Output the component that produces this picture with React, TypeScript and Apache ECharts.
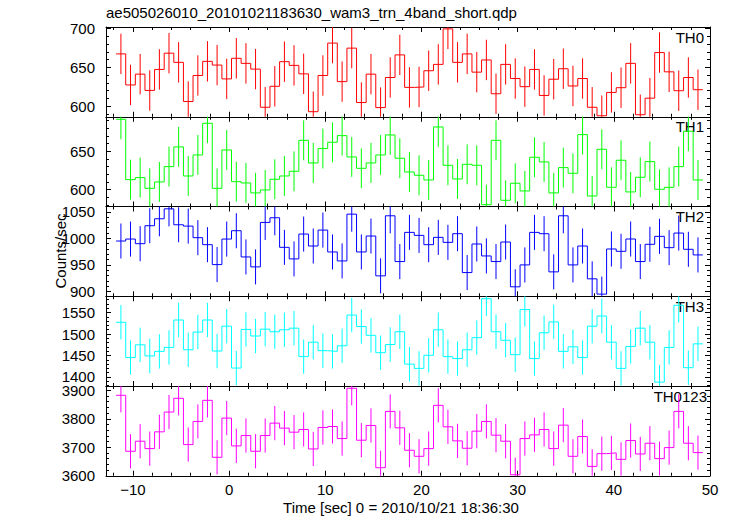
import React, { useEffect, useRef } from "react";
import * as echarts from "echarts";

const TITLE = "ae505026010_20101021183630_wam3_trn_4band_short.qdp";
const X_TITLE = "Time [sec] 0 = 2010/10/21 18:36:30";
const Y_TITLE = "Counts/sec";
const BAND_NAMES = ["TH0", "TH1", "TH2", "TH3", "TH0123"];
const BAND_COLORS = ["#ff0000", "#00ff00", "#0000ff", "#00ffff", "#ff00ff"];

const TIME_START = -11.75;
const BIN_SIZE = 1;

const th0 = [
  667.4, 627.4, 641.3, 620.4, 647.4, 668.3, 656.5, 606.1, 639.6, 657.8, 653.0, 635.2, 661.7, 655.2, 647.8, 598.7,
  625.7, 657.4, 652.6, 641.7, 593.0, 639.6, 681.3, 631.7, 674.8, 604.8, 641.3, 598.3, 637.0, 666.1, 624.3,
  624.8, 645.7, 653.9, 699.6, 656.5, 667.4, 643.9, 659.6, 616.1, 653.9, 635.7, 625.2, 647.4, 613.9, 634.8,
  648.3, 626.1, 635.7, 598.7, 587.8, 617.8, 623.9, 655.2, 589.1, 610.4, 669.1, 644.3, 620.0, 637.0, 621.3,
];
const th1 = [
  691.7, 613.0, 615.7, 601.7, 610.0, 630.0, 655.7, 617.8, 645.2, 686.5, 601.7, 651.7, 610.4, 608.7, 595.7, 599.6,
  613.5, 617.8, 623.9, 664.3, 634.8, 653.5, 661.7, 670.4, 642.6, 627.8, 634.8, 645.2, 671.3, 640.9, 623.0,
  618.7, 612.6, 681.7, 631.7, 613.9, 633.0, 631.7, 580.4, 664.3, 586.1, 608.3, 598.3, 642.2, 636.1, 595.7,
  628.7, 621.3, 671.7, 591.7, 652.6, 603.0, 638.3, 597.0, 616.1, 636.5, 600.4, 603.0, 630.0, 676.1, 612.6,
];
const th2 = [
  995.0, 998.7, 990.0, 1023.8, 1036.9, 1055.6, 1025.6, 1023.1, 1001.3, 988.1, 950.6, 998.7, 1014.4, 965.0, 946.3,
  1030.0, 1038.8, 983.1, 961.3, 1008.1, 985.6, 1015.6, 974.4, 957.5, 1045.6, 974.4, 1004.4, 929.4, 1042.5, 956.3,
  1011.3, 1005.6, 988.1, 1001.9, 992.5, 1008.8, 935.6, 989.4, 966.9, 956.3, 993.1, 908.8, 950.0, 1011.3, 1008.8,
  936.9, 1042.5, 950.0, 985.6, 923.8, 895.0, 980.0, 975.6, 998.8, 956.3, 988.8, 1003.8, 982.5, 1010.0, 979.4, 968.8,
];
const th3 = [
  1527.4, 1445.2, 1474.9, 1449.0, 1459.6, 1468.8, 1532.7, 1463.4, 1504.6, 1532.7, 1460.4, 1518.3, 1420.8, 1510.7,
  1495.4, 1511.4, 1505.3, 1509.9, 1513.7, 1447.4, 1481.0, 1461.2, 1459.6, 1472.6, 1544.2, 1517.5, 1497.0, 1456.6,
  1475.6, 1505.3, 1429.9, 1420.0, 1450.5, 1509.9, 1447.4, 1442.9, 1463.4, 1491.6, 1582.3, 1505.3, 1485.5, 1452.0,
  1557.1, 1442.9, 1503.0, 1528.2, 1459.6, 1470.3, 1445.2, 1518.3, 1541.9, 1481.0, 1420.0, 1471.1, 1513.7, 1481.0,
  1388.0, 1468.8, 1567.0, 1421.6, 1477.2,
];
const th0123 = [
  3882.4, 3685.9, 3721.2, 3695.3, 3754.1, 3823.5, 3871.8, 3709.4, 3790.6, 3864.7, 3664.7, 3802.4, 3704.7, 3741.2,
  3685.9, 3741.2, 3784.7, 3767.1, 3752.9, 3762.4, 3694.1, 3769.4, 3772.9, 3730.6, 3907.1, 3724.7, 3776.5, 3628.2,
  3825.9, 3768.2, 3689.4, 3668.2, 3695.3, 3847.1, 3771.8, 3722.4, 3696.5, 3756.5, 3790.6, 3742.4, 3721.2, 3603.5,
  3730.6, 3743.5, 3762.4, 3695.3, 3777.6, 3668.2, 3737.6, 3632.9, 3677.6, 3680.0, 3657.6, 3723.5, 3676.5, 3714.1,
  3660.0, 3698.8, 3825.9, 3714.1, 3681.2,
];
const SERIES_VALUES = [th0, th1, th2, th3, th0123];
const ERRORS = [26, 26, 33, 40, 60];

const X_MIN = -12.8;
const X_MAX = 50;
const Y_MIN = [586.5, 578, 891, 1379, 3600];
const Y_MAX = [702, 695, 1060, 1588, 3915];
const Y_SPLIT = [2, 2, 3, 4, 3];

const FONT = "'Liberation Sans', Arial, Helvetica, sans-serif";
const GRID_LEFT = 106;
const GRID_RIGHT = 21;
const GRID_TOP = 27;
const GRID_H = 89.75;
const LABEL_X = [704, 704, 704, 704, 707];

const fmt = (v: number) => (v < 0 ? "\u2212" + String(Math.abs(v)) : String(v));

export default function App() {
  const ref = useRef<HTMLDivElement>(null);
  useEffect(() => {
    document.body.style.margin = "0";
    const chart = echarts.init(ref.current!, undefined, { renderer: "svg" });
    const grids: any[] = [];
    const xAxes: any[] = [];
    const yAxes: any[] = [];
    const series: any[] = [];
    const graphics: any[] = [];
    const tickCommon = {
      axisLine: { show: true, onZero: false, lineStyle: { color: "#000", width: 1 } },
      axisTick: { show: true, inside: true, length: 5, lineStyle: { color: "#000", width: 1 } },
      minorTick: { show: true, splitNumber: 5, length: 3, lineStyle: { color: "#000", width: 1 } },
      splitLine: { show: false },
      minorSplitLine: { show: false },
    };
    SERIES_VALUES.forEach((vals, i) => {
      const top = GRID_TOP + i * GRID_H;
      grids.push({ left: GRID_LEFT, right: GRID_RIGHT, top, height: GRID_H, show: false });
      xAxes.push({
        type: "value",
        gridIndex: i,
        position: "bottom",
        min: X_MIN,
        max: X_MAX,
        splitNumber: 6,
        ...tickCommon,
        axisLabel: {
          show: i === SERIES_VALUES.length - 1,
          color: "#000",
          fontSize: 15,
          fontFamily: FONT,
          margin: 6,
          showMinLabel: false,
          showMaxLabel: true,
          formatter: fmt,
        },
      });
      xAxes.push({
        type: "value",
        gridIndex: i,
        position: "top",
        min: X_MIN,
        max: X_MAX,
        splitNumber: 6,
        ...tickCommon,
        axisLabel: { show: false },
      });
      yAxes.push({
        type: "value",
        gridIndex: i,
        position: "left",
        min: Y_MIN[i],
        max: Y_MAX[i],
        splitNumber: Y_SPLIT[i],
        ...tickCommon,
        axisLabel: {
          show: true,
          color: "#000",
          fontSize: 15,
          lineHeight: 11,
          fontFamily: FONT,
          margin: 11,
          showMinLabel: i === SERIES_VALUES.length - 1,
          showMaxLabel: false,
          formatter: fmt,
        },
      });
      yAxes.push({
        type: "value",
        gridIndex: i,
        position: "right",
        min: Y_MIN[i],
        max: Y_MAX[i],
        splitNumber: Y_SPLIT[i],
        ...tickCommon,
        axisLabel: { show: false },
      });
      const stepData: number[][] = [];
      const errData: number[][] = [];
      vals.forEach((v, k) => {
        const t0 = TIME_START + k * BIN_SIZE;
        stepData.push([t0, v], [t0 + BIN_SIZE, v]);
        errData.push([t0 + BIN_SIZE / 2, v, ERRORS[i]]);
      });
      const color = BAND_COLORS[i];
      series.push({
        type: "line",
        name: BAND_NAMES[i],
        xAxisIndex: 2 * i,
        yAxisIndex: 2 * i,
        data: stepData,
        showSymbol: false,
        symbol: "none",
        clip: true,
        lineStyle: { color, width: 1 },
        itemStyle: { color },
      });
      series.push({
        type: "custom",
        xAxisIndex: 2 * i,
        yAxisIndex: 2 * i,
        data: errData,
        clip: true,
        renderItem: (params: any, api: any) => {
          const x = api.value(0);
          const v = api.value(1);
          const e = api.value(2);
          const p1 = api.coord([x, v - e]);
          const p2 = api.coord([x, v + e]);
          return {
            type: "line",
            shape: { x1: p1[0], y1: p1[1], x2: p2[0], y2: p2[1] },
            style: { stroke: color, lineWidth: 1 },
          };
        },
      });
      graphics.push({
        type: "text",
        x: LABEL_X[i],
        y: top + 10,
        style: {
          text: BAND_NAMES[i],
          fill: "#000",
          font: `15px ${FONT}`,
          textAlign: "right",
          textVerticalAlign: "middle",
        },
      });
    });
    graphics.push({
      type: "text",
      x: GRID_LEFT,
      y: 12,
      style: { text: TITLE, fill: "#000", font: `15px ${FONT}`, textAlign: "left", textVerticalAlign: "middle" },
    });
    graphics.push({
      type: "text",
      x: 401,
      y: 507,
      style: { text: X_TITLE, fill: "#000", font: `15px ${FONT}`, textAlign: "center", textVerticalAlign: "middle" },
    });
    graphics.push({
      type: "text",
      x: 60,
      y: 251,
      rotation: Math.PI / 2,
      style: { text: Y_TITLE, fill: "#000", font: `15px ${FONT}`, textAlign: "center", textVerticalAlign: "middle" },
    });
    chart.setOption({
      animation: false,
      backgroundColor: "#fff",
      grid: grids,
      xAxis: xAxes,
      yAxis: yAxes,
      series,
      graphic: graphics,
    });
    return () => chart.dispose();
  }, []);
  return <div ref={ref} style={{ width: 731, height: 516, position: "absolute", left: 0, top: 0 }} />;
}
